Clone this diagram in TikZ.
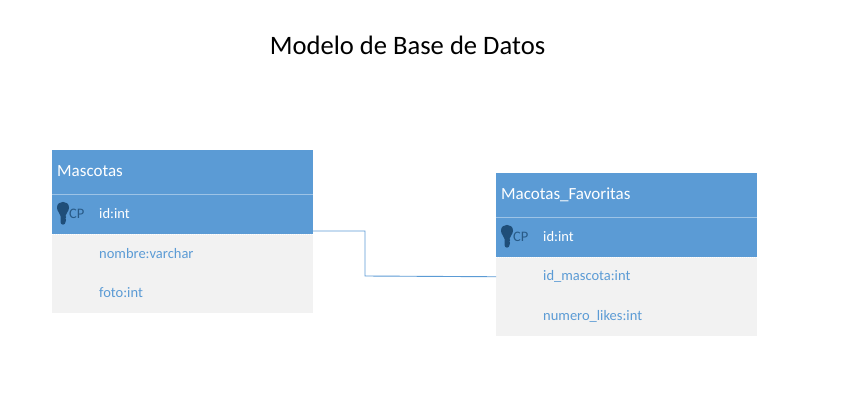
\documentclass[tikz,border=0pt]{standalone}
\usepackage{fontspec}
\setmainfont{Carlito}
\usetikzlibrary{calc}
\definecolor{hdrblue}{HTML}{5B9BD5}
\definecolor{rowgray}{HTML}{F2F2F2}
\definecolor{keyblue}{HTML}{1F4E79}
\definecolor{sepblue}{HTML}{9DC3E6}
\definecolor{linkblue}{HTML}{5B9BD5}
\tikzset{
  x=1pt,y=-1pt,
  band/.style={anchor=north west,inner sep=0pt,outer sep=0pt,minimum width=261pt,draw=none},
  headband/.style={band,fill=hdrblue,minimum height=44pt},
  keyband/.style={band,fill=hdrblue,minimum height=40pt},
  grayband/.style={band,fill=rowgray,minimum height=39.5pt},
  headtext/.style={anchor=west,inner sep=0pt,text=white,font=\fontsize{17}{19}\selectfont},
  keytext/.style={anchor=west,inner sep=0pt,text=white,font=\fontsize{14.5}{16}\selectfont},
  fieldtext/.style={anchor=west,inner sep=0pt,text=hdrblue,font=\fontsize{14.5}{16}\selectfont},
  cptext/.style={anchor=west,inner sep=0pt,text=keyblue!85!hdrblue,font=\fontsize{14.5}{16}\selectfont},
  keyicon/.pic={
    \fill[keyblue] (-6,-5.5) .. controls (-6,-13) and (6,-13) .. (6,-5.5)
       .. controls (6,-1) and (2.5,0) .. (2.5,3)
       -- (3.2,4) -- (2.5,5.5) -- (3,7) -- (2.5,9)
       .. controls (2.5,12.5) and (-2.5,12.5) .. (-2.5,9)
       -- (-2.5,3) .. controls (-2.5,0) and (-6,-1) .. (-6,-5.5) -- cycle;
  },
  rule/.style={draw=sepblue,line width=0.8pt},
  dotrule/.style={draw=white,line width=0.7pt,dash pattern=on 1pt off 1pt},
  link/.style={draw=linkblue,line width=0.9pt}
}
\begin{document}
\begin{tikzpicture}
\useasboundingbox (0,0) rectangle (846,412);
\fill[white] (0,0) rectangle (846,412);
\node[anchor=center,inner sep=0pt,font=\fontsize{26.6}{30}\selectfont] (title) at (407.5,45) {Modelo de Base de Datos};

% Mascotas
\node[headband] (h1) at (52,150) {};
\node[keyband] (k1) at (52,194) {};
\node[grayband] (r1a) at (52,234) {};
\node[grayband] (r1b) at (52,273.5) {};
\draw[rule] (h1.south west) -- (h1.south east);
\draw[dotrule] (k1.south west) -- (k1.south east);
\node[headtext] (h1t) at (57,171) {Mascotas};
\pic at (63,213) {keyicon};
\node[cptext] (cp1) at (69,214) {CP};
\node[keytext] (k1t) at (99,214) {id:int};
\node[fieldtext] (r1at) at (99,254) {nombre:varchar};
\node[fieldtext] (r1bt) at (99,293) {foto:int};

% Macotas_Favoritas
\node[headband] (h2) at (496,173) {};
\node[keyband] (k2) at (496,217) {};
\node[grayband] (r2a) at (496,257) {};
\node[grayband] (r2b) at (496,296) {};
\draw[rule] (h2.south west) -- (h2.south east);
\draw[dotrule] (k2.south west) -- (k2.south east);
\node[headtext] (h2t) at (501,194.5) {Macotas\_Favoritas};
\pic at (507,236) {keyicon};
\node[cptext] (cp2) at (513,237) {CP};
\node[keytext] (k2t) at (543,237) {id:int};
\node[fieldtext] (r2at) at (543,276.5) {id\_mascota:int};
\node[fieldtext] (r2bt) at (543,316.5) {numero\_likes:int};

% connector
\coordinate (c1) at ([yshift=3pt]k1.south east);
\coordinate (c2) at (r2a.west);
\draw[link] (c1) -| (365,276) -- (c2);
\end{tikzpicture}
\end{document}
